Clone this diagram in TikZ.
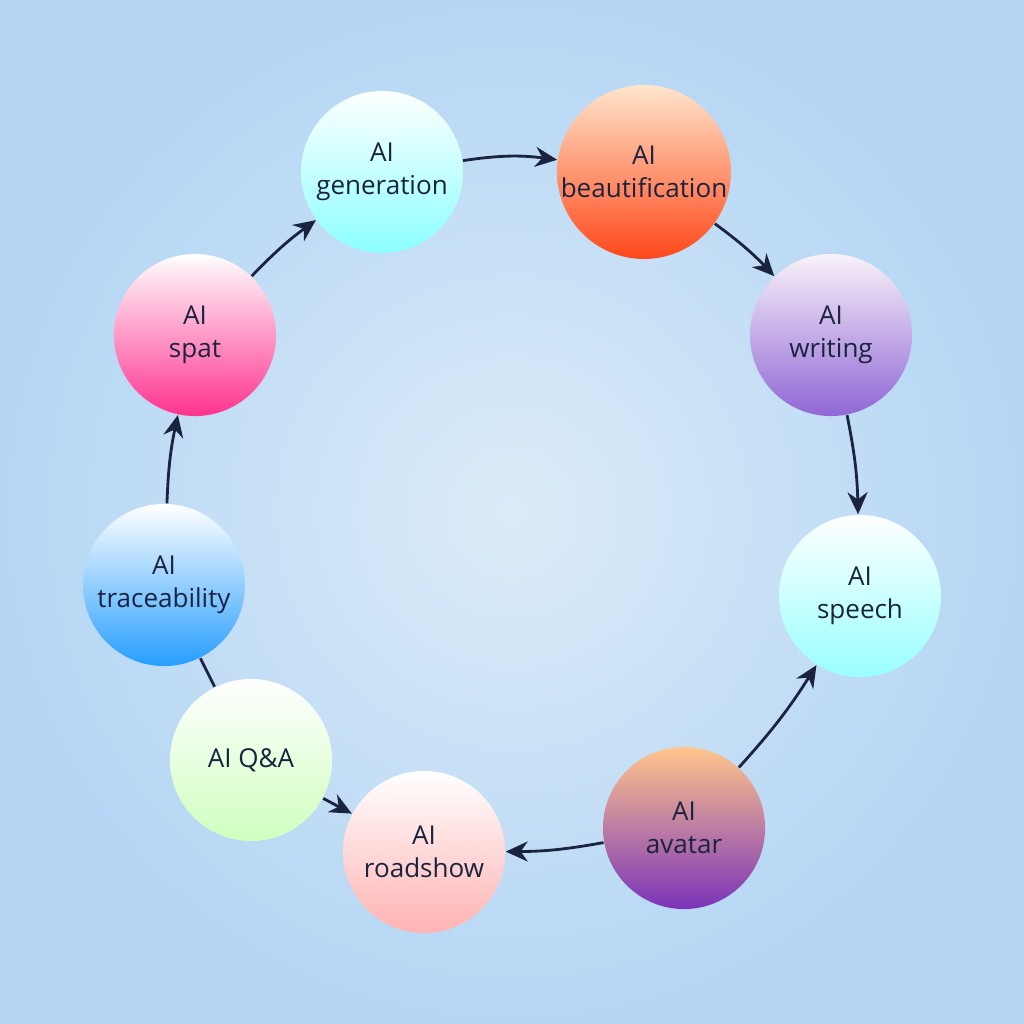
\documentclass[tikz,border=0pt]{standalone}
\usepackage{fontspec}
\setmainfont{Open Sans}
\usetikzlibrary{arrows.meta}
\definecolor{ink}{HTML}{1A2440}
\definecolor{bgblue}{HTML}{B4D6F4}
\definecolor{bglight}{HTML}{DCEBF8}
\tikzset{
  step/.style={circle, minimum size=1.62cm, inner sep=0pt, align=center,
    text=ink, font=\fontsize{7.4}{9.5}\selectfont, top color=#1},
  flow/.style={-{Stealth[length=2.2mm,width=2mm]}, ink, line width=0.8pt},
}
\begin{document}
\begin{tikzpicture}[x=0.01cm, y=-0.01cm]
\shade[inner color=bglight, outer color=bgblue] (0,0) rectangle (1024,1024);
\useasboundingbox (0,0) rectangle (1024,1024);

\node[step=white, bottom color=cyan!45] (gen) at (382,172) {AI\\generation};
\node[step=orange!20, bottom color=red!60!orange!90] (beau) at (644,172) {AI\\beautification};
\node[step=violet!5, bottom color=blue!45!violet!60] (writ) at (831,335) {AI\\writing};
\node[step=white, bottom color=cyan!40] (speech) at (860,596) {AI\\speech};
\node[step=orange!45, bottom color=violet!70!blue!80] (avat) at (684,828) {AI\\avatar};
\node[step=white, bottom color=red!30] (road) at (424,852) {AI\\roadshow};
\node[step=white, bottom color=yellow!25!green!25] (qa) at (251,760) {AI Q\&A};
\node[step=white, bottom color=blue!45!cyan!85] (trace) at (164,585) {AI\\traceability};
\node[step=white, bottom color=red!55!magenta!80] (spat) at (195,335) {AI\\spat};

\draw[flow] (gen) to[bend left=8] (beau);
\draw[flow] (beau) to[bend left=5] (writ);
\draw[flow] (writ) to[bend left=5] (speech);
\draw[flow] (avat) to[bend right=5] (speech);
\draw[flow] (avat) to[bend left=5] (road);
\draw[flow] (qa) -- (road);
\draw[ink, line width=0.8pt] (trace) -- (qa);
\draw[flow] (trace) to[bend left=5] (spat);
\draw[flow] (spat) to[bend left=5] (gen);
\end{tikzpicture}
\end{document}
